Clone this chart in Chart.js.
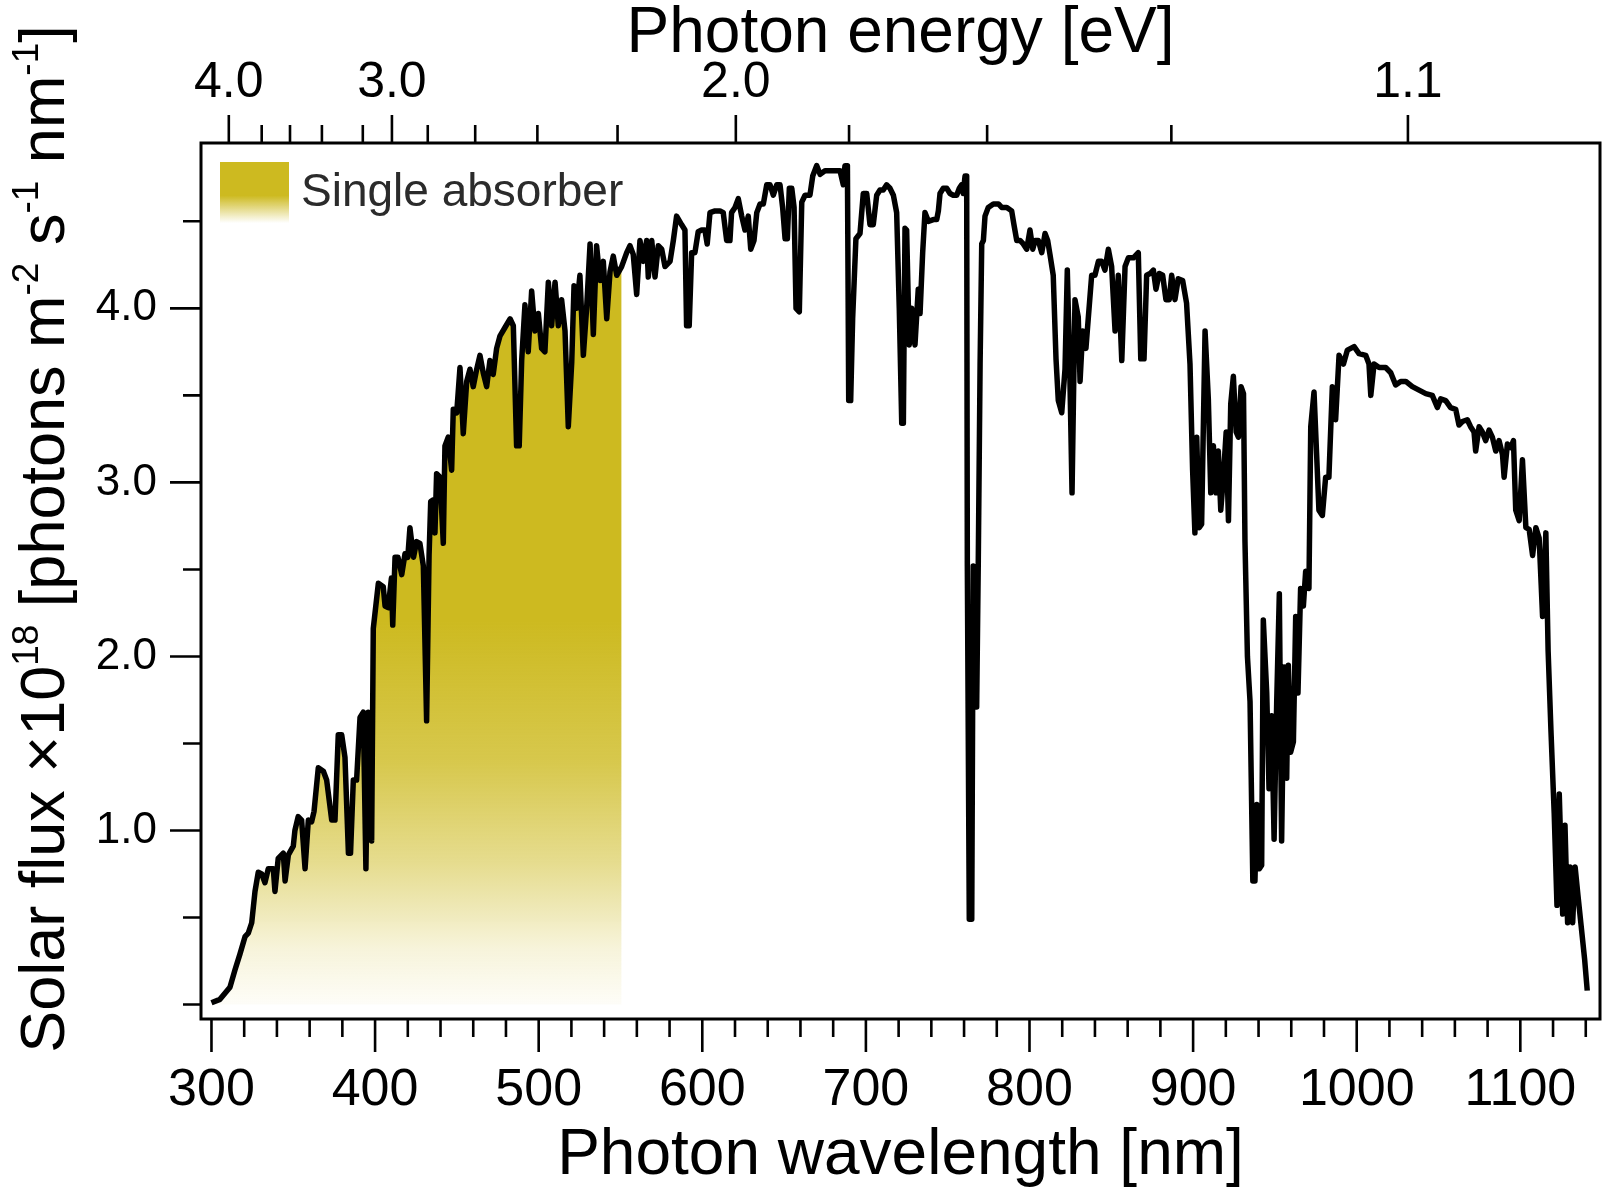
<!DOCTYPE html>
<html>
<head>
<meta charset="utf-8">
<title>Solar flux</title>
<script src="https://cdn.jsdelivr.net/npm/chart.js@4.4.1/dist/chart.umd.min.js"></script>
<style>
    html, body { margin: 0; padding: 0; background: #ffffff; }
    canvas { display: block; }
</style>
</head>
<body>
<canvas id="chart_solar" width="1602" height="1189"></canvas>
<script>
// longitud de onda [nm]
var wavelength = [
    300.0, 305.2, 311.3, 314.4, 317.4, 320.5, 322.5, 324.6, 326.6, 328.6, 330.7, 332.7, 334.7, 337.8, 338.8, 340.8,
    343.9, 345.0, 347.0, 350.0, 351.0, 353.0, 355.1, 357.2, 359.2, 361.2, 362.7, 365.3, 368.4, 370.4, 373.5, 375.5,
    377.5, 379.6, 381.6, 383.7, 385.0, 386.7, 388.7, 390.8, 392.8, 394.4, 395.8, 397.9, 398.9, 402.0, 405.0, 406.1,
    408.0, 410.0, 410.8, 412.2, 414.0, 416.3, 418.3, 420.0, 421.3, 423.5, 425.4, 427.4, 429.5, 431.5, 433.0, 434.0,
    435.6, 436.6, 437.6, 439.7, 441.7, 442.7, 444.7, 446.8, 447.8, 449.9, 451.9, 453.9, 456.0, 458.0, 460.0, 462.1,
    464.1, 466.1, 468.2, 470.2, 472.2, 474.3, 476.3, 479.4, 482.5, 484.5, 486.5, 488.1, 489.6, 491.6, 493.6, 495.7,
    497.7, 499.8, 501.8, 503.8, 505.9, 507.9, 510.0, 512.0, 514.0, 516.1, 518.1, 520.2, 521.6, 523.2, 525.2, 527.3,
    529.3, 531.4, 533.4, 535.4, 537.5, 539.5, 541.6, 543.6, 545.6, 547.7, 550.7, 553.8, 555.8, 557.8, 559.9, 561.9,
    564.0, 566.0, 567.0, 569.1, 571.1, 573.1, 575.2, 577.2, 580.3, 582.3, 584.3, 587.4, 589.4, 590.4, 592.0, 593.5,
    595.5, 597.5, 599.6, 601.6, 603.0, 604.7, 607.8, 610.8, 612.8, 614.9, 616.9, 617.9, 620.0, 622.0, 624.1, 626.1,
    628.1, 629.6, 631.6, 633.3, 635.3, 637.3, 639.4, 641.4, 643.4, 645.5, 647.5, 649.1, 650.6, 652.0, 653.2, 654.7,
    656.1, 657.3, 659.3, 660.8, 662.8, 665.8, 667.5, 669.9, 672.0, 675.0, 678.1, 681.1, 684.2, 686.2, 687.2, 688.7,
    689.5, 690.7, 691.9, 693.9, 696.4, 698.4, 700.5, 702.5, 704.5, 706.6, 708.6, 710.6, 712.7, 714.7, 716.8, 718.8,
    720.4, 721.9, 722.9, 723.9, 724.9, 726.5, 728.0, 730.0, 732.0, 733.1, 734.7, 736.1, 738.2, 741.2, 743.3, 744.3,
    745.3, 747.3, 749.4, 751.4, 753.4, 755.5, 757.1, 758.5, 759.5, 760.6, 761.6, 762.0, 763.2, 764.7, 765.6, 766.7,
    767.7, 768.7, 769.8, 770.8, 771.8, 772.8, 774.8, 777.9, 781.0, 783.0, 786.1, 789.1, 790.5, 792.2, 794.2, 796.2,
    798.3, 800.3, 802.0, 803.4, 805.4, 807.5, 809.5, 811.1, 812.5, 814.5, 816.2, 817.6, 819.7, 821.7, 823.1, 824.5,
    826.0, 827.8, 829.8, 830.9, 832.5, 834.5, 835.9, 838.0, 840.0, 842.1, 844.1, 846.1, 848.2, 850.2, 852.3, 854.3,
    856.4, 858.4, 860.4, 863.5, 866.5, 868.0, 870.0, 871.6, 873.7, 875.7, 877.3, 879.3, 881.4, 883.4, 885.4, 886.9,
    888.9, 890.9, 893.6, 896.0, 898.1, 899.7, 901.1, 902.2, 903.7, 905.2, 907.3, 909.3, 910.8, 912.4, 914.0, 915.4,
    916.9, 918.5, 920.2, 921.6, 923.0, 924.6, 926.3, 927.7, 929.3, 930.8, 931.7, 933.2, 934.8, 936.5, 937.8, 938.9,
    940.5, 941.9, 942.9, 945.0, 946.4, 948.0, 949.5, 951.1, 952.7, 954.1, 955.6, 957.2, 958.2, 959.6, 961.3, 962.7,
    964.1, 965.7, 967.4, 968.8, 970.8, 971.9, 973.9, 975.5, 976.9, 979.0, 981.0, 983.0, 985.1, 987.1, 989.2, 991.9,
    994.3, 998.4, 1001.4, 1005.5, 1007.5, 1008.6, 1010.6, 1013.7, 1017.7, 1020.8, 1023.8, 1026.9, 1030.0, 1034.0, 1038.1, 1042.2,
    1046.2, 1049.3, 1051.3, 1054.4, 1057.4, 1060.5, 1062.5, 1064.6, 1067.6, 1069.6, 1071.7, 1072.7, 1074.8, 1076.8, 1078.8, 1080.9,
    1082.9, 1085.0, 1087.0, 1089.1, 1090.1, 1092.1, 1094.2, 1095.8, 1097.2, 1099.3, 1101.3, 1103.4, 1105.4, 1107.5, 1109.5, 1111.5,
    1113.6, 1115.6, 1117.0, 1118.7, 1120.7, 1122.4, 1123.8, 1125.9, 1127.3, 1128.9, 1130.5, 1132.0, 1133.5, 1135.2, 1137.2, 1139.3,
    1140.9
];

// flujo solar x1e18 [photons m-2 s-1 nm-1]
var flux = [
    0.01, 0.03, 0.10, 0.20, 0.29, 0.39, 0.41, 0.47, 0.65, 0.76, 0.75, 0.70, 0.78, 0.78, 0.65, 0.84,
    0.87, 0.71, 0.86, 0.91, 1.00, 1.08, 1.06, 0.78, 1.06, 1.05, 1.11, 1.36, 1.34, 1.29, 1.06, 1.06,
    1.55, 1.55, 1.42, 0.87, 0.87, 1.29, 1.29, 1.65, 1.68, 0.78, 1.68, 0.94, 2.16, 2.42, 2.40, 2.29,
    2.28, 2.45, 2.18, 2.57, 2.57, 2.47, 2.59, 2.57, 2.74, 2.57, 2.66, 2.65, 2.52, 1.63, 2.58, 2.89,
    2.90, 2.71, 3.05, 3.03, 2.65, 3.21, 3.26, 3.07, 3.42, 3.40, 3.66, 3.28, 3.58, 3.65, 3.55, 3.65,
    3.73, 3.63, 3.55, 3.70, 3.62, 3.77, 3.84, 3.89, 3.94, 3.90, 3.21, 3.21, 3.70, 4.02, 3.75, 4.10,
    3.87, 3.97, 3.77, 3.75, 4.15, 3.90, 4.15, 3.90, 4.05, 3.87, 3.32, 3.69, 4.13, 4.00, 4.19, 3.73,
    4.00, 4.37, 3.85, 4.36, 4.16, 4.27, 3.94, 4.21, 4.30, 4.19, 4.24, 4.32, 4.36, 4.31, 4.08, 4.39,
    4.27, 4.39, 4.18, 4.39, 4.18, 4.36, 4.34, 4.24, 4.27, 4.39, 4.53, 4.48, 4.45, 3.90, 3.90, 4.32,
    4.32, 4.44, 4.45, 4.45, 4.37, 4.55, 4.56, 4.56, 4.55, 4.39, 4.39, 4.55, 4.58, 4.63, 4.53, 4.45,
    4.53, 4.34, 4.39, 4.55, 4.60, 4.60, 4.71, 4.71, 4.65, 4.71, 4.71, 4.58, 4.40, 4.40, 4.69, 4.69,
    4.58, 4.00, 3.98, 4.61, 4.65, 4.65, 4.76, 4.82, 4.77, 4.79, 4.79, 4.79, 4.79, 4.71, 4.82, 4.82,
    3.47, 3.47, 3.94, 4.40, 4.43, 4.66, 4.66, 4.48, 4.48, 4.65, 4.68, 4.68, 4.71, 4.69, 4.65, 4.55,
    4.00, 3.34, 3.34, 4.46, 4.45, 3.79, 4.00, 3.79, 4.11, 3.97, 4.32, 4.55, 4.50, 4.51, 4.51, 4.56,
    4.66, 4.69, 4.69, 4.66, 4.65, 4.65, 4.69, 4.71, 4.66, 4.76, 4.76, 2.52, 0.49, 0.49, 2.52, 1.71,
    1.71, 2.55, 3.68, 4.37, 4.39, 4.53, 4.58, 4.60, 4.60, 4.58, 4.58, 4.56, 4.48, 4.39, 4.39, 4.37,
    4.34, 4.45, 4.34, 4.39, 4.39, 4.32, 4.43, 4.39, 4.31, 4.19, 3.71, 3.47, 3.40, 3.65, 4.22, 3.70,
    2.94, 4.05, 3.95, 3.58, 3.87, 3.77, 3.94, 4.19, 4.19, 4.27, 4.27, 4.22, 4.34, 4.24, 3.87, 4.19,
    3.70, 4.24, 4.29, 4.29, 4.32, 3.71, 3.71, 4.19, 4.20, 4.22, 4.11, 4.20, 4.19, 4.05, 4.05, 4.19,
    4.05, 4.17, 4.16, 4.03, 3.68, 3.07, 2.71, 3.26, 2.74, 2.76, 3.87, 3.48, 2.94, 3.21, 2.94, 3.18,
    2.84, 3.03, 3.29, 2.78, 3.45, 3.61, 3.29, 3.26, 3.55, 3.51, 2.66, 2.00, 1.74, 0.71, 0.71, 1.15,
    0.78, 0.80, 2.21, 1.79, 1.24, 1.66, 0.95, 1.74, 2.36, 0.94, 1.94, 1.30, 1.95, 1.45, 1.51, 2.23,
    1.79, 2.39, 2.29, 2.49, 2.39, 3.32, 3.52, 3.16, 2.84, 2.81, 3.03, 3.03, 3.55, 3.36, 3.73, 3.68,
    3.76, 3.78, 3.74, 3.73, 3.68, 3.50, 3.68, 3.66, 3.66, 3.63, 3.56, 3.58, 3.58, 3.55, 3.53, 3.51,
    3.50, 3.43, 3.48, 3.47, 3.43, 3.42, 3.33, 3.35, 3.36, 3.32, 3.29, 3.18, 3.32, 3.29, 3.24, 3.30,
    3.26, 3.18, 3.24, 3.16, 3.03, 3.22, 3.20, 3.24, 2.84, 2.78, 3.13, 2.74, 2.73, 2.58, 2.74, 2.68,
    2.23, 2.71, 2.03, 1.58, 1.10, 0.57, 1.21, 0.52, 1.03, 0.47, 0.79, 0.47, 0.79, 0.63, 0.45, 0.26,
    0.08
];

// rango del absorbedor simple
var absorberEnd = 551;
var absorberLabel = "Single absorber";

// eje inferior (nm)
var wavelengthTicks = [300, 320, 340, 360, 380, 400, 420, 440, 460, 480, 500, 520, 540, 560, 580, 600, 620, 640,
    660, 680, 700, 720, 740, 760, 780, 800, 820, 840, 860, 880, 900, 920, 940, 960, 980, 1000, 1020, 1040, 1060,
    1080, 1100, 1120, 1140];
var wavelengthLabels = ["300", "400", "500", "600", "700", "800", "900", "1000", "1100"];

// eje superior (energia), posiciones en nm
var energyTickPos = [310.6, 330.7, 348.0, 367.5, 392.5, 410.3, 432.2, 461.2, 499.2, 548.2, 620.5, 689.7, 774.1, 886.7, 1031.3];
var energyTickLabels = ["4.0", "", "", "", "", "3.0", "", "", "", "", "2.0", "", "", "", "1.1"];

// eje y
var fluxTicks = [0, 0.5, 1.0, 1.5, 2.0, 2.5, 3.0, 3.5, 4.0, 4.5];
var fluxTickLabels = ["", "", "1.0", "", "2.0", "", "3.0", "", "4.0", ""];

var FUENTE = "'Liberation Sans', Arial, Helvetica, sans-serif";
var ORO = "205,186,32";

var puntos = wavelength.map(function(w, i) { return { x: w, y: flux[i] }; });
var puntosAbs = puntos.filter(function(p) { return p.x <= absorberEnd; });

function gradienteAbs(chart) {
    var y = chart.scales.y;
    var g = chart.ctx.createLinearGradient(0, y.getPixelForValue(4.5), 0, y.getPixelForValue(0));
    g.addColorStop(0.00, "rgba(" + ORO + ",1)");
    g.addColorStop(0.51, "rgba(" + ORO + ",1)");
    g.addColorStop(0.69, "rgba(" + ORO + ",0.8)");
    g.addColorStop(0.82, "rgba(" + ORO + ",0.5)");
    g.addColorStop(0.93, "rgba(" + ORO + ",0.16)");
    g.addColorStop(1.00, "rgba(" + ORO + ",0.03)");
    return g;
}

function etiquetaDe(lista, etiquetas, valor) {
    for (var i = 0; i < lista.length; i++) {
        if (Math.abs(lista[i] - valor) < 1e-6) return etiquetas[i];
    }
    return "";
}

// rejilla invisible: solo sirve para separar las etiquetas del eje
function rejillaOculta(largo) {
    return { display: true, drawOnChartArea: false, drawTicks: true, tickLength: largo, tickColor: "rgba(0,0,0,0)" };
}

// marco, marcas de los ejes, leyenda y titulo del eje y
var decorado = {
    id: "decorado",
    afterDraw: function(chart) {
        var ctx = chart.ctx;
        var a = chart.chartArea;
        var sx = chart.scales.x, sx2 = chart.scales.x2, sy = chart.scales.y;

        ctx.save();
        ctx.strokeStyle = "#000";
        ctx.lineWidth = 3;
        ctx.strokeRect(a.left, a.top, a.right - a.left, a.bottom - a.top);

        ctx.lineWidth = 2.6;
        ctx.beginPath();
        wavelengthTicks.forEach(function(v) {
            var px = sx.getPixelForValue(v);
            var largo = wavelengthLabels.indexOf(String(v)) >= 0 ? 33 : 18;
            ctx.moveTo(px, a.bottom);
            ctx.lineTo(px, a.bottom + largo);
        });
        energyTickPos.forEach(function(v, i) {
            var px = sx2.getPixelForValue(v);
            var largo = energyTickLabels[i] !== "" ? 28 : 18;
            ctx.moveTo(px, a.top);
            ctx.lineTo(px, a.top - largo);
        });
        fluxTicks.forEach(function(v, i) {
            var py = sy.getPixelForValue(v);
            var largo = fluxTickLabels[i] !== "" ? 31 : 18;
            ctx.moveTo(a.left, py);
            ctx.lineTo(a.left - largo, py);
        });
        ctx.stroke();

        // leyenda
        var lx = 220, ly = 162, lw = 69, lh = 61;
        var g = ctx.createLinearGradient(0, ly, 0, ly + lh);
        g.addColorStop(0, "rgba(" + ORO + ",1)");
        g.addColorStop(0.55, "rgba(" + ORO + ",1)");
        g.addColorStop(1, "rgba(" + ORO + ",0)");
        ctx.fillStyle = g;
        ctx.fillRect(lx, ly, lw, lh);
        ctx.fillStyle = "#2b2b2b";
        ctx.font = "46px " + FUENTE;
        ctx.textAlign = "left";
        ctx.textBaseline = "alphabetic";
        ctx.fillText(absorberLabel, 301, 206);

        // titulo eje y con superindices
        var piezas = [
            ["Solar flux \u00d710", 0], ["18", 1], [" [photons m", 0], ["-2", 1], [" s", 0],
            ["-1", 1], [" nm", 0], ["-1", 1], ["]", 0]
        ];
        var fNormal = "63px " + FUENTE, fSup = "37px " + FUENTE;
        var total = 0;
        piezas.forEach(function(p) {
            ctx.font = p[1] ? fSup : fNormal;
            total += ctx.measureText(p[0]).width;
        });
        ctx.translate(64, 539);
        ctx.rotate(-Math.PI / 2);
        ctx.fillStyle = "#000";
        var cx = -total / 2;
        piezas.forEach(function(p) {
            ctx.font = p[1] ? fSup : fNormal;
            ctx.fillText(p[0], cx, p[1] ? -26 : 0);
            cx += ctx.measureText(p[0]).width;
        });
        ctx.restore();
    }
};

var canvas = document.getElementById("chart_solar").getContext("2d");
window.grafico = new Chart(canvas, {
    type: "line",
    data: {
        datasets: [{
                label: "Solar flux",
                data: puntos,
                borderColor: "#000000",
                borderWidth: 5.5,
                borderJoinStyle: "round",
                pointRadius: 0,
                fill: false,
                tension: 0
            },
            {
                label: absorberLabel,
                data: puntosAbs,
                borderWidth: 0,
                pointRadius: 0,
                fill: "origin",
                backgroundColor: function(context) {
                    var chart = context.chart;
                    if (!chart.chartArea) return "rgba(0,0,0,0)";
                    return gradienteAbs(chart);
                }
            }
        ]
    },
    options: {
        responsive: false,
        animation: false,
        devicePixelRatio: 1,
        layout: { padding: { left: 0, right: 2, top: 0, bottom: 0 } },
        plugins: {
            legend: { display: false },
            tooltip: { enabled: false }
        },
        scales: {
            x: {
                type: "linear",
                position: "bottom",
                min: 293.6,
                max: 1148.7,
                grid: rejillaOculta(46),
                border: { display: false },
                afterBuildTicks: function(scale) {
                    scale.ticks = wavelengthTicks.map(function(v) { return { value: v }; });
                },
                afterFit: function(scale) { scale.height = 170; },
                ticks: {
                    autoSkip: false,
                    maxRotation: 0,
                    padding: 0,
                    color: "#000",
                    font: { family: FUENTE, size: 52, lineHeight: 1 },
                    callback: function(v) { return wavelengthLabels.indexOf(String(v)) >= 0 ? String(v) : ""; }
                },
                title: {
                    display: true,
                    text: "Photon wavelength [nm]",
                    color: "#000",
                    font: { family: FUENTE, size: 64, lineHeight: 1 },
                    padding: { top: 0, bottom: 1 }
                }
            },
            x2: {
                type: "linear",
                position: "top",
                min: 293.6,
                max: 1148.7,
                grid: rejillaOculta(35),
                border: { display: false },
                afterBuildTicks: function(scale) {
                    scale.ticks = energyTickPos.map(function(v) { return { value: v }; });
                },
                afterFit: function(scale) { scale.height = 143; },
                ticks: {
                    autoSkip: false,
                    maxRotation: 0,
                    padding: 0,
                    color: "#000",
                    font: { family: FUENTE, size: 50, lineHeight: 1 },
                    callback: function(v) { return etiquetaDe(energyTickPos, energyTickLabels, v); }
                },
                title: {
                    display: true,
                    text: "Photon energy [eV]",
                    color: "#000",
                    font: { family: FUENTE, size: 64, lineHeight: 1 },
                    padding: { top: 2, bottom: 0 }
                }
            },
            y: {
                type: "linear",
                min: -0.083,
                max: 4.95,
                grid: { display: false, drawTicks: false },
                border: { display: false },
                afterBuildTicks: function(scale) {
                    scale.ticks = fluxTicks.map(function(v) { return { value: v }; });
                },
                afterFit: function(scale) { scale.width = 201; },
                ticks: {
                    autoSkip: false,
                    padding: 44,
                    color: "#000",
                    font: { family: FUENTE, size: 44 },
                    callback: function(v) { return etiquetaDe(fluxTicks, fluxTickLabels, v); }
                }
            }
        }
    },
    plugins: [decorado]
});
</script>
</body>
</html>
